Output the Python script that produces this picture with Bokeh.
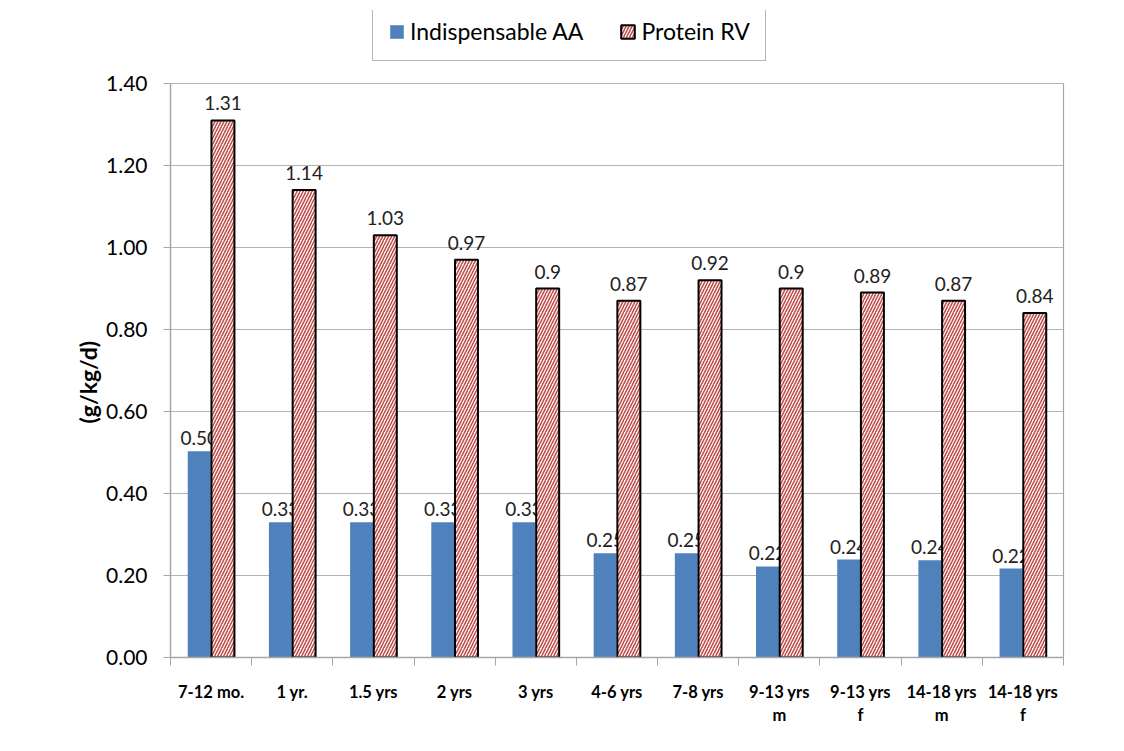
from bokeh.plotting import figure
from bokeh.models import ColumnDataSource, FixedTicker, Legend, LegendItem, Range1d, LinearAxis, Title
from bokeh.transform import dodge
from bokeh.core.properties import value
from bokeh.embed import file_html
from bokeh.resources import INLINE

# ---- data ----
categories = ["7-12 mo.", "1 yr.", "1.5 yrs", "2 yrs", "3 yrs", "4-6 yrs", "7-8 yrs",
              "9-13 yrs\nm", "9-13 yrs\nf", "14-18 yrs\nm", "14-18 yrs\nf"]
indispensable_aa = [0.503, 0.33, 0.33, 0.33, 0.33, 0.254, 0.254, 0.222, 0.239, 0.237, 0.217]
aa_labels = ["0.50", "0.33", "0.33", "0.33", "0.33", "0.25", "0.25", "0.22", "0.24", "0.24", "0.22"]
protein_rv = [1.31, 1.14, 1.03, 0.97, 0.90, 0.87, 0.92, 0.90, 0.89, 0.87, 0.84]
rv_labels = ["1.31", "1.14", "1.03", "0.97", "0.9", "0.87", "0.92", "0.9", "0.89", "0.87", "0.84"]
y_ticks = [0.0, 0.2, 0.4, 0.6, 0.8, 1.0, 1.2, 1.4]
series_names = ["Indispensable AA", "Protein RV"]
y_title = "(g/kg/d)"

FONT = "Lato"
BLUE = "#4F81BD"
RED = "#C0504D"
GRAY = "#A6A6A6"

centers = [i + 0.5 for i in range(len(categories))]
boundaries = [float(i) for i in range(len(categories) + 1)]

src = ColumnDataSource(dict(x=centers, aa=indispensable_aa, aa_lab=aa_labels,
                            rv=protein_rv, rv_lab=rv_labels))

# plot area spans 0..1.4 over 574 px; frame extended upward to hold the legend
y_max = y_ticks[-1]
frame_top, frame_bottom = 10, 657
y_end = y_max * (frame_bottom - frame_top) / 574.0

p = figure(width=1108, height=735, output_backend="svg", toolbar_location=None,
           x_range=Range1d(0, len(categories)), y_range=Range1d(0, y_end),
           min_border_left=170, min_border_right=45, min_border_top=frame_top,
           min_border_bottom=735 - frame_bottom)

p.background_fill_color = "white"
p.border_fill_color = "white"
p.outline_line_color = None

bw = 0.283
off = 0.146

r_aa = p.vbar(x=dodge("x", -off), top="aa", width=bw, source=src,
              fill_color=BLUE, line_color=None)
p.text(x=dodge("x", -off), y="aa", text="aa_lab", source=src, y_offset=-6,
       text_align="center", text_baseline="bottom", text_font=value(FONT),
       text_font_size="19px", text_color="#222222")
r_rv = p.vbar(x=dodge("x", off), top="rv", width=bw, source=src,
              fill_color="white", line_color="black", line_width=2,
              hatch_pattern="/", hatch_color=RED, hatch_scale=6, hatch_weight=1.6)
p.text(x=dodge("x", off), y="rv", text="rv_lab", source=src, y_offset=-10,
       text_align="center", text_baseline="bottom", text_font=value(FONT),
       text_font_size="19px", text_color="#222222")

# grid
p.xgrid.visible = False
p.ygrid.ticker = FixedTicker(ticks=y_ticks)
p.ygrid.grid_line_color = "#B3B3B3"
p.ygrid.grid_line_width = 1

# y axis
p.yaxis.ticker = FixedTicker(ticks=y_ticks)
p.yaxis.bounds = (0, y_max)
p.yaxis.major_label_overrides = {t: f"{t:.2f}" for t in y_ticks}
p.yaxis.major_label_text_font = FONT
p.yaxis.major_label_text_font_size = "21px"
p.yaxis.major_label_text_color = "black"
p.yaxis.major_label_standoff = 16
p.yaxis.axis_line_color = GRAY
p.yaxis.axis_line_width = 1.5
p.yaxis.major_tick_line_color = GRAY
p.yaxis.major_tick_out = 7
p.yaxis.major_tick_in = 0
p.yaxis.minor_tick_line_color = None

# y axis title (starts above the frame bottom by `offset` pixels)
title = Title(text=y_title, align="left", offset=234, text_font=FONT,
              text_font_style="bold", text_font_size="23px", text_color="black",
              standoff=4)
p.add_layout(title, "left")

# right border of plot area
right = LinearAxis(ticker=FixedTicker(ticks=[]), bounds=(0, y_max),
                   axis_line_color=GRAY, axis_line_width=1.2,
                   major_tick_line_color=None, minor_tick_line_color=None,
                   major_label_text_font_size="0px")
p.add_layout(right, "right")

# x axis: labels at centers, tick marks at boundaries
p.xaxis.ticker = FixedTicker(ticks=centers, minor_ticks=boundaries)
p.xaxis.major_label_overrides = {c: lab for c, lab in zip(centers, categories)}
p.xaxis.major_tick_line_color = None
p.xaxis.minor_tick_line_color = GRAY
p.xaxis.minor_tick_out = 8
p.xaxis.minor_tick_in = 0
p.xaxis.axis_line_color = GRAY
p.xaxis.axis_line_width = 1.5
p.xaxis.major_label_text_font = FONT
p.xaxis.major_label_text_font_style = "bold"
p.xaxis.major_label_text_font_size = "16.5px"
p.xaxis.major_label_text_color = "black"
p.xaxis.major_label_text_line_height = 1.15
p.xaxis.major_label_standoff = 16

legend = Legend(items=[LegendItem(label=series_names[0], renderers=[r_aa]),
                       LegendItem(label=series_names[1], renderers=[r_rv])],
                location=(202, 596), orientation="horizontal")
legend.label_text_font = FONT
legend.label_text_font_size = "23px"
legend.label_text_line_height = 0.9
legend.label_text_color = "black"
legend.glyph_width = 17
legend.glyph_height = 17
legend.label_standoff = 5
legend.spacing = 36
legend.padding = 15
legend.margin = 0
legend.border_line_color = "#6E6E6E"
legend.border_line_width = 1.5
legend.background_fill_color = "white"
legend.background_fill_alpha = 1
p.add_layout(legend, "center")

open("out.html", "w").write(file_html(p, INLINE))
